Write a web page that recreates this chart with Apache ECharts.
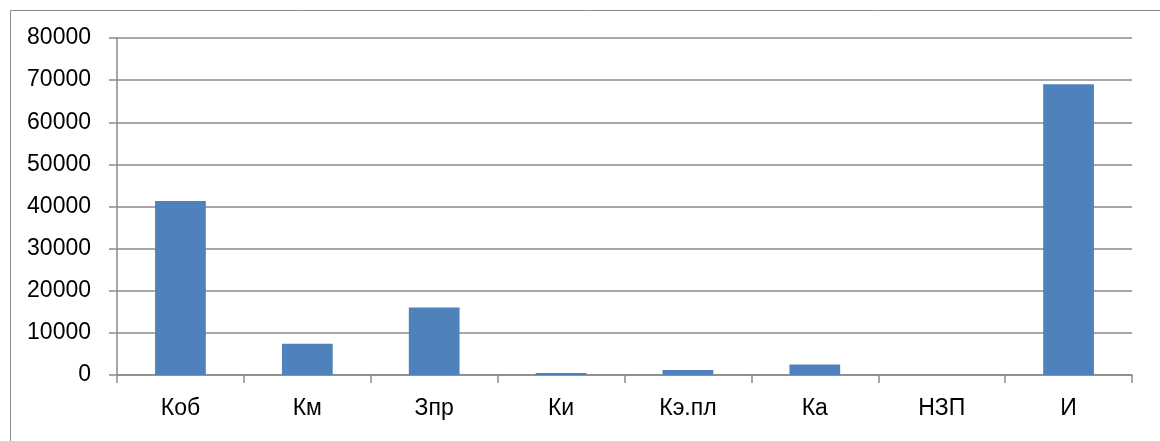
<!DOCTYPE html>
<html>
<head>
<meta charset="utf-8">
<script src="https://cdn.jsdelivr.net/npm/echarts@6/dist/echarts.min.js"></script>
<style>
  html, body { margin: 0; padding: 0; background: #ffffff; }
  #chart { width: 1160px; height: 441px; }
</style>
</head>
<body>
<div id="chart"></div>
<script>
// Indicator names along the category axis
const categories = ['Коб', 'Км', 'Зпр', 'Ки', 'Кэ.пл', 'Ка', 'НЗП', 'И'];
// Value for each indicator
const values = [41300, 7400, 16000, 500, 1200, 2500, 0, 69000];
// Value axis range and step
const yMin = 0;
const yMax = 80000;
const yStep = 10000;

const gray = '#8a8a8a';
const labelFont = 'Liberation Sans, Arial, sans-serif';

const chart = echarts.init(document.getElementById('chart'), null, { renderer: 'canvas' });

chart.setOption({
  backgroundColor: '#ffffff',
  animation: false,
  graphic: [
    {
      type: 'rect',
      left: 8,
      top: 8,
      shape: { width: 1200, height: 500 },
      style: { fill: 'none', stroke: gray, lineWidth: 1 },
      silent: true
    }
  ],
  grid: { left: 117, right: 28, top: 38, bottom: 66, containLabel: false },
  xAxis: {
    type: 'category',
    data: categories,
    axisLine: { show: true, lineStyle: { color: gray, width: 1.5 } },
    axisTick: { show: true, alignWithLabel: false, length: 8, lineStyle: { color: gray, width: 1.5 } },
    axisLabel: { color: '#000000', fontFamily: labelFont, fontSize: 23, margin: 22 },
    splitLine: { show: false }
  },
  yAxis: {
    type: 'value',
    min: yMin,
    max: yMax,
    interval: yStep,
    axisLine: { show: true, lineStyle: { color: gray, width: 1.5 } },
    axisTick: { show: true, length: 8, lineStyle: { color: gray, width: 1.5 } },
    axisLabel: {
      color: '#000000', fontFamily: labelFont, fontSize: 23, margin: 26,
      formatter: (v) => String(v)
    },
    splitLine: { show: true, lineStyle: { color: gray, width: 1.5 } }
  },
  series: [
    {
      type: 'bar',
      data: values,
      barWidth: '40%',
      itemStyle: { color: '#4f81bd' }
    }
  ]
});
</script>
</body>
</html>
